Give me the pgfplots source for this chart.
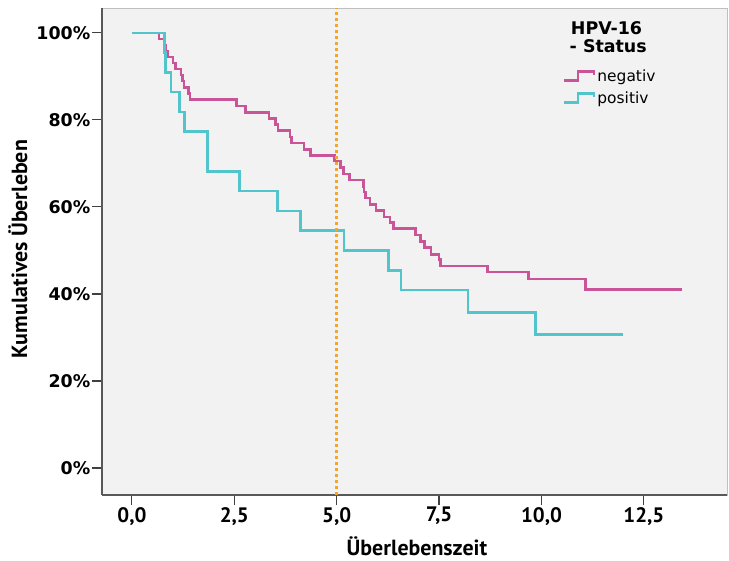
\documentclass[border=0pt]{standalone}
\usepackage{fontspec}
\setmainfont{PT Sans}
\newfontfamily\dvs{DejaVu Sans}
\usepackage{pgfplots}
\pgfplotsset{compat=1.18}
\definecolor{negcol}{RGB}{201,84,152}
\definecolor{poscol}{RGB}{82,196,203}
\definecolor{refl}{RGB}{245,166,35}
\definecolor{bg}{RGB}{242,242,242}
\begin{document}
\begin{tikzpicture}
\path[use as bounding box] (0,0) rectangle (729bp,561bp);
\begin{axis}[
  at={(102bp,66bp)}, anchor=south west, scale only axis,
  width=625bp, height=487bp,
  xmin=-0.73, xmax=14.53, ymin=-6.2, ymax=105.7,
  axis background/.style={fill=bg, draw=black!25},
  axis x line*=bottom, axis y line*=left,
  axis line style={draw=black!65, line width=1.2bp, -},
  tick style={draw=black!75, line width=1.2bp},
  major tick length=10bp, tick align=outside,
  xtick={0,2.5,5,7.5,10,12.5},
  ytick={0,20,40,60,80,100},
  /pgf/number format/.cd, use comma, fixed, fixed zerofill, precision=1, assume math mode=true,
  /pgfplots/.cd,
  xticklabel style={font=\bfseries\fontsize{21}{21}\selectfont, inner sep=2bp},
  yticklabel={\pgfmathprintnumber[fixed,precision=0,fixed zerofill=false]{\tick}\%},
  yticklabel style={font=\dvs\bfseries\fontsize{17.5}{17.5}\selectfont, inner sep=1.5bp},
  xlabel={Überlebenszeit},
  ylabel={Kumulatives Überleben},
  xlabel style={at={(axis description cs:0.504,-0.106)}, anchor=center, inner sep=0pt, font=\bfseries\fontsize{22}{22}\selectfont},
  ylabel style={at={(axis description cs:-0.1344,0.505)}, anchor=center, inner sep=0pt, font=\bfseries\fontsize{22}{22}\selectfont},
  legend style={at={(axis description cs:0.737,0.878)}, anchor=north west, draw=none, fill=none,
    font=\dvs\fontsize{15.5}{15.5}\selectfont, row sep=5bp, inner sep=0pt},
  legend cell align=left,
  legend image code/.code={\draw[#1] (0bp,-4bp) -- (14bp,-4bp) -- (14bp,5bp) -- (30bp,5bp) -- (30bp,1bp);},
]
\addplot[const plot, negcol, line width=2.6bp] coordinates {
(0,100) (0.66,98.6) (0.78,97.2) (0.83,95.8) (0.88,94.4) (1.00,93.1) (1.06,91.7)
(1.20,90.3) (1.24,88.9) (1.27,87.5) (1.38,86.1) (1.42,84.7) (2.56,83.2) (2.78,81.7)
(3.35,80.3) (3.51,78.9) (3.57,77.5) (3.86,76.1) (3.90,74.7) (4.20,73.2) (4.36,71.8)
(4.95,70.5) (5.10,69.0) (5.16,67.6) (5.32,66.2) (5.65,64.7) (5.67,63.4) (5.70,62.0)
(5.81,60.5) (5.96,59.2) (6.16,57.7) (6.30,56.4) (6.38,55.0) (6.93,53.5) (7.05,52.1)
(7.15,50.6) (7.30,49.1) (7.50,47.9) (7.54,46.4) (8.68,45.0) (9.68,43.4) (11.08,41.0)
(13.42,41.0)};
\addlegendentry{negativ}
\addplot[const plot, poscol, line width=2.6bp] coordinates {
(0,100) (0.79,95.45) (0.82,90.91) (0.95,86.36) (1.16,81.82) (1.29,77.27) (1.84,68.18)
(2.62,63.64) (3.56,59.09) (4.12,54.55) (5.18,50.00) (6.27,45.45) (6.57,40.91)
(8.21,35.80) (9.86,30.68) (11.98,30.68)};
\addlegendentry{positiv}
\addplot[refl, line width=3bp, dash pattern=on 3bp off 3bp, forget plot] coordinates {(5,-6.2) (5,105.7)};
\node[anchor=west, font=\dvs\bfseries\fontsize{17.5}{17.5}\selectfont, inner sep=0pt] at (axis description cs:0.750,0.959) {HPV-16};
\node[anchor=west, font=\dvs\bfseries\fontsize{17.5}{17.5}\selectfont, inner sep=0pt] at (axis description cs:0.748,0.922) {- Status};
\end{axis}
\end{tikzpicture}
\end{document}
